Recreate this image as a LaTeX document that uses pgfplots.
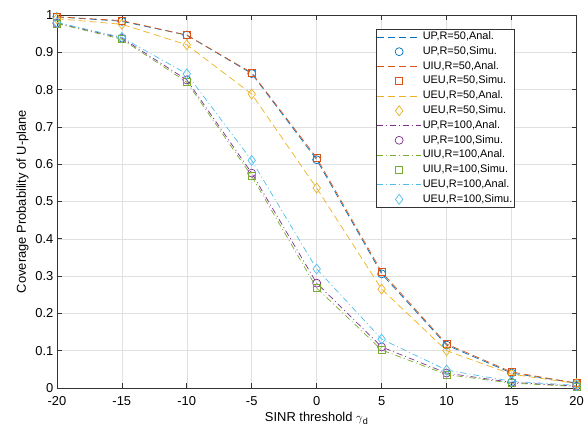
\documentclass[border=0pt]{standalone}
\usepackage{pgfplots}
\usepackage{pgfplotstable}
\pgfplotsset{compat=1.18}
\usepackage{fontspec}
\setmainfont{Liberation Sans}
\definecolor{cA}{rgb}{0,0.447,0.741}
\definecolor{cB}{rgb}{0.85,0.325,0.098}
\definecolor{cC}{rgb}{0.929,0.694,0.125}
\definecolor{cD}{rgb}{0.494,0.184,0.556}
\definecolor{cE}{rgb}{0.466,0.674,0.188}
\definecolor{cF}{rgb}{0.301,0.745,0.933}
\pgfplotstableread{
x up50 uiu50 ueu50 up100 uiu100 ueu100
-20 0.995 0.995 0.990 0.978 0.977 0.980
-15 0.983 0.985 0.975 0.938 0.935 0.940
-10 0.946 0.946 0.920 0.826 0.820 0.842
-5 0.843 0.845 0.788 0.576 0.568 0.610
0 0.612 0.617 0.536 0.281 0.268 0.319
5 0.306 0.311 0.265 0.110 0.102 0.131
10 0.115 0.118 0.100 0.040 0.036 0.048
15 0.040 0.043 0.037 0.015 0.013 0.018
20 0.013 0.013 0.012 0.005 0.004 0.007
}\data
\pgfplotsset{
  linelegend/.style={legend image code/.code={\draw[##1] (0cm,0cm) -- (1.55cm,0cm);}},
  marklegend/.style={legend image code/.code={\draw[##1] plot[only marks] coordinates {(0.78cm,0cm)};}},
  anal/.style={no marks, line width=0.7bp, linelegend},
  simu/.style={only marks, mark options={solid, line width=0.7bp, fill=none}, marklegend},
  dsh/.style={dash pattern=on 7bp off 4bp},
  dsd/.style={dash pattern=on 6bp off 3bp on 1bp off 3bp},
}
\begin{document}
\begin{tikzpicture}
\begin{axis}[
  width=521bp, height=374bp, scale only axis,
  xmin=-20, xmax=20, ymin=0, ymax=1,
  xtick={-20,-15,...,20},
  ytick={0,0.1,0.2,0.3,0.4,0.5,0.6,0.7,0.8,0.9,1},
  yticklabel style={/pgf/number format/fixed, /pgf/number format/precision=1},
  /pgf/number format/assume math mode=true,
  ticklabel style={font=\fontsize{13}{15}\selectfont},
  xticklabel style={yshift=-5bp},
  label style={font=\fontsize{13}{15}\selectfont},
  grid=major,
  major grid style={color=black!12, line width=0.5bp},
  tick align=inside,
  major tick length=5bp,
  axis line style={color=black!80, line width=0.6bp},
  tick style={color=black!80, line width=0.6bp},
  xlabel={SINR threshold $\gamma$\textsubscript{d}},
  ylabel={Coverage Probability of U-plane},
  xlabel style={yshift=0bp},
  ylabel style={yshift=0bp},
  legend cell align=left,
  legend style={at={(rel axis cs:0.881,0.9626)}, anchor=north east,
    font=\fontsize{11}{13}\selectfont, draw=black!80, line width=0.6bp,
    inner xsep=0.5bp, inner ysep=1bp, row sep=1.3bp,
    nodes={inner sep=1.5bp, text height=8bp, text depth=2.5bp}},
]
\addplot[anal, dsh, cA] table[x=x, y=up50] {\data};
\addlegendentry{UP,R=50,Anal.}
\addplot[simu, cA, mark=o, mark size=4bp] table[x=x, y=up50] {\data};
\addlegendentry{UP,R=50,Simu.}
\addplot[anal, dsh, cB] table[x=x, y=uiu50] {\data};
\addlegendentry{UIU,R=50,Anal.}
\addplot[simu, cB, mark=square, mark size=3.6bp] table[x=x, y=uiu50] {\data};
\addlegendentry{UEU,R=50,Simu.}
\addplot[anal, dsh, cC] table[x=x, y=ueu50] {\data};
\addlegendentry{UEU,R=50,Anal.}
\addplot[simu, cC, mark=diamond, mark size=5bp] table[x=x, y=ueu50] {\data};
\addlegendentry{UEU,R=50,Simu.}
\addplot[anal, dsd, cD] table[x=x, y=up100] {\data};
\addlegendentry{UP,R=100,Anal.}
\addplot[simu, cD, mark=o, mark size=4bp] table[x=x, y=up100] {\data};
\addlegendentry{UP,R=100,Simu.}
\addplot[anal, dsd, cE] table[x=x, y=uiu100] {\data};
\addlegendentry{UIU,R=100,Anal.}
\addplot[simu, cE, mark=square, mark size=3.6bp] table[x=x, y=uiu100] {\data};
\addlegendentry{UIU,R=100,Simu.}
\addplot[anal, dsd, cF] table[x=x, y=ueu100] {\data};
\addlegendentry{UEU,R=100,Anal.}
\addplot[simu, cF, mark=diamond, mark size=5bp] table[x=x, y=ueu100] {\data};
\addlegendentry{UEU,R=100,Simu.}
\end{axis}
\path (current axis.south west) ++(-57bp,-46bp) rectangle (current axis.north east) ++(9bp,15bp);
\end{tikzpicture}
\end{document}
